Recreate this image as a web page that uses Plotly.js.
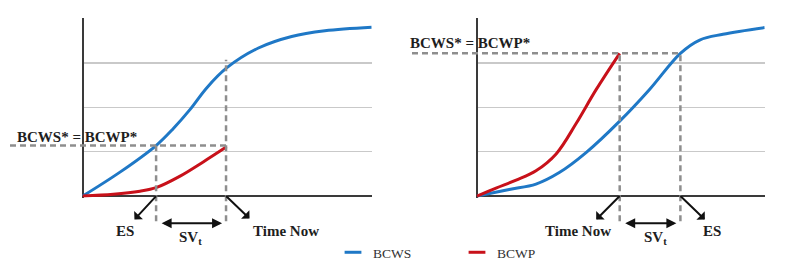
<!DOCTYPE html>
<html><head><meta charset="utf-8">
<script src="https://cdn.plot.ly/plotly-3.0.1.min.js"></script>
<style>html,body{margin:0;padding:0;background:#fff}</style>
</head><body><div id="chart" style="width:800px;height:268px"></div>
<script>
// ---- Data: left panel (behind schedule) ----
const leftBcwsX = [0, 1.29, 2.54, 3.13, 3.71, 4.29, 4.98, 6.08, 7.23, 8.38, 10];
const leftBcwsY = [0, 0.54, 1.14, 1.52, 1.95, 2.44, 2.89, 3.34, 3.60, 3.73, 3.81];
const leftBcwpX = [0, 1.06, 1.98, 2.54, 3.37, 4.17, 4.98];
const leftBcwpY = [0, 0.04, 0.11, 0.19, 0.45, 0.77, 1.11];
const leftES = 2.54, leftTN = 4.96, leftLevel = 1.14;

// ---- Data: right panel (ahead of schedule) ----
const rightBcwsX = [0, 1.12, 2.05, 2.86, 3.79, 4.96, 5.99, 7.07, 7.74, 8.55, 10];
const rightBcwsY = [0, 0.15, 0.27, 0.53, 0.98, 1.69, 2.40, 3.22, 3.52, 3.65, 3.80];
const rightBcwpX = [0, 0.66, 1.36, 2.05, 2.75, 3.44, 4.14, 4.96];
const rightBcwpY = [0, 0.18, 0.36, 0.57, 0.95, 1.63, 2.40, 3.22];
const rightES = 7.07, rightTN = 4.96, rightLevel = 3.22;

const seriesNames = ['BCWS', 'BCWP'];
const levelLabel = 'BCWS* = BCWP*';
const labelES = 'ES', labelTN = 'Time Now', labelSV = 'SV<sub>t</sub>';

const BLUE = '#1f78c6', RED = '#c8111a', DASH = '#8e8e8e', AX = '#3a3a3a', GRID = '#c9c9c9';
const W = 800, H = 268;

const XL = {domain: [81.54 / W, 371.7 / W], range: [-0.04, 10]};
const XR = {domain: [475.85 / W, 764.7 / W], range: [-0.04, 10]};
const YA = {domain: [1 - 198.58 / H, 1 - 17.91 / H], range: [-0.04, 4.02]};

function px(v, a) { return a.domain[0] + (v - a.range[0]) / (a.range[1] - a.range[0]) * (a.domain[1] - a.domain[0]); }
function pyPx(p) { return 1 - p / H; }

const serif = "'Liberation Serif', 'Times New Roman', serif";
const lineW = 3;
const spl = c => ({color: c, width: lineW, shape: 'spline', smoothing: 1});

const traces = [
  {x: leftBcwsX, y: leftBcwsY, xaxis: 'x', yaxis: 'y', mode: 'lines', line: spl(BLUE), showlegend: false, name: seriesNames[0]},
  {x: leftBcwpX, y: leftBcwpY, xaxis: 'x', yaxis: 'y', mode: 'lines', line: spl(RED), showlegend: false, name: seriesNames[1]},
  {x: rightBcwsX, y: rightBcwsY, xaxis: 'x2', yaxis: 'y2', mode: 'lines', line: spl(BLUE), showlegend: false, name: seriesNames[0]},
  {x: rightBcwpX, y: rightBcwpY, xaxis: 'x2', yaxis: 'y2', mode: 'lines', line: spl(RED), showlegend: false, name: seriesNames[1]},
  {x: [null], y: [null], mode: 'markers', name: seriesNames[0], legend: 'legend', marker: {symbol: 'line-ew', size: 12, color: BLUE, line: {color: BLUE, width: 3}}},
  {x: [null], y: [null], mode: 'markers', name: seriesNames[1], legend: 'legend2', marker: {symbol: 'line-ew', size: 12, color: RED, line: {color: RED, width: 3}}}
];

function axisX(a, anchor) {
  return {domain: a.domain, range: a.range, anchor: anchor, showgrid: false, showticklabels: false, ticks: '',
          zeroline: true, zerolinecolor: AX, zerolinewidth: 2, showline: false, fixedrange: true};
}
function axisY(anchor) {
  return {domain: YA.domain, range: YA.range, anchor: anchor, showgrid: true, gridcolor: GRID, gridwidth: 1.5,
          dtick: 1, tick0: 0, showticklabels: false, ticks: '', zeroline: true, zerolinecolor: AX, zerolinewidth: 2,
          showline: false, fixedrange: true};
}

const dash = {color: DASH, width: 2.5, dash: '6px,4px'};
const bottomDash = pyPx(222);

const shapes = [
  {type: 'line', xref: 'paper', yref: 'y', x0: 10 / W, x1: px(leftTN, XL), y0: leftLevel, y1: leftLevel, line: dash},
  {type: 'line', xref: 'x', yref: 'paper', x0: leftES, x1: leftES, y0: bottomDash, y1: px(leftLevel, YA), line: dash},
  {type: 'line', xref: 'x', yref: 'paper', x0: leftTN, x1: leftTN, y0: bottomDash, y1: pyPx(60), line: dash},
  {type: 'line', xref: 'paper', yref: 'y2', x0: 412 / W, x1: px(rightES, XR), y0: rightLevel, y1: rightLevel, line: dash},
  {type: 'line', xref: 'x2', yref: 'paper', x0: rightTN, x1: rightTN, y0: bottomDash, y1: px(rightLevel, YA), line: dash},
  {type: 'line', xref: 'x2', yref: 'paper', x0: rightES, x1: rightES, y0: bottomDash, y1: px(rightLevel, YA), line: dash}
];

const bold = {family: serif, size: 15, color: '#1e1e1e', weight: 'bold'};
function arrow(xr, yr, x, y, ax, ay) {
  return {xref: xr, yref: yr, x: x, y: y, ax: ax, ay: ay, text: '', showarrow: true, arrowside: 'start',
          arrowhead: 2, arrowsize: 1, arrowwidth: 2, arrowcolor: '#111'};
}
function dbl(xr, x0, x1) {
  return {xref: xr, yref: 'paper', x: x1, y: pyPx(224), axref: xr, ax: x0, ayref: 'pixel', ay: 0, text: '',
          showarrow: true, arrowside: 'end+start', arrowhead: 2, arrowsize: 1, arrowwidth: 2, arrowcolor: '#111',
          standoff: 4, startstandoff: 4};
}
function label(xr, x, ypx, text, xshift) {
  return {xref: xr, yref: 'paper', x: x, y: pyPx(ypx), text: text, showarrow: false, xanchor: 'center',
          yanchor: 'middle', xshift: xshift, font: bold};
}

const annotations = [
  {xref: 'paper', yref: 'y', x: 77 / W, y: leftLevel, yanchor: 'bottom', xanchor: 'center', text: levelLabel, showarrow: false, font: bold, yshift: -1},
  {xref: 'paper', yref: 'y2', x: 470 / W, y: rightLevel, yanchor: 'bottom', xanchor: 'center', text: levelLabel, showarrow: false, font: bold, yshift: 0},
  arrow('x', 'y', leftES, 0, -23, 25),
  arrow('x', 'y', leftTN, 0, 25, 24),
  dbl('x', leftES, leftTN),
  arrow('x2', 'y2', rightTN, 0, -25, 25),
  arrow('x2', 'y2', rightES, 0, 26, 25),
  dbl('x2', rightTN, rightES),
  label('x', leftES, 232, labelES, -31),
  label('x', leftTN, 232, labelTN, 60),
  label('x', (leftES + leftTN) / 2, 239, labelSV, -1),
  label('x2', rightTN, 232, labelTN, -42),
  label('x2', (rightTN + rightES) / 2, 239, labelSV, 5),
  label('x2', rightES, 232, labelES, 32)
];

const legendBase = {orientation: 'h', xanchor: 'left', y: pyPx(253), yanchor: 'middle',
                    font: {family: serif, size: 13.5, color: '#333'}, bgcolor: 'rgba(0,0,0,0)'};

const layout = {
  width: W, height: H, margin: {l: 0, r: 0, t: 0, b: 0},
  paper_bgcolor: '#fff', plot_bgcolor: '#fff',
  xaxis: axisX(XL, 'y'), yaxis: axisY('x'),
  xaxis2: axisX(XR, 'y2'), yaxis2: axisY('x2'),
  showlegend: true,
  legend: Object.assign({}, legendBase, {x: 333 / W}),
  legend2: Object.assign({}, legendBase, {x: 457 / W}),
  shapes: shapes, annotations: annotations
};

Plotly.newPlot('chart', traces, layout, {displayModeBar: false, staticPlot: true});
</script></body></html>
